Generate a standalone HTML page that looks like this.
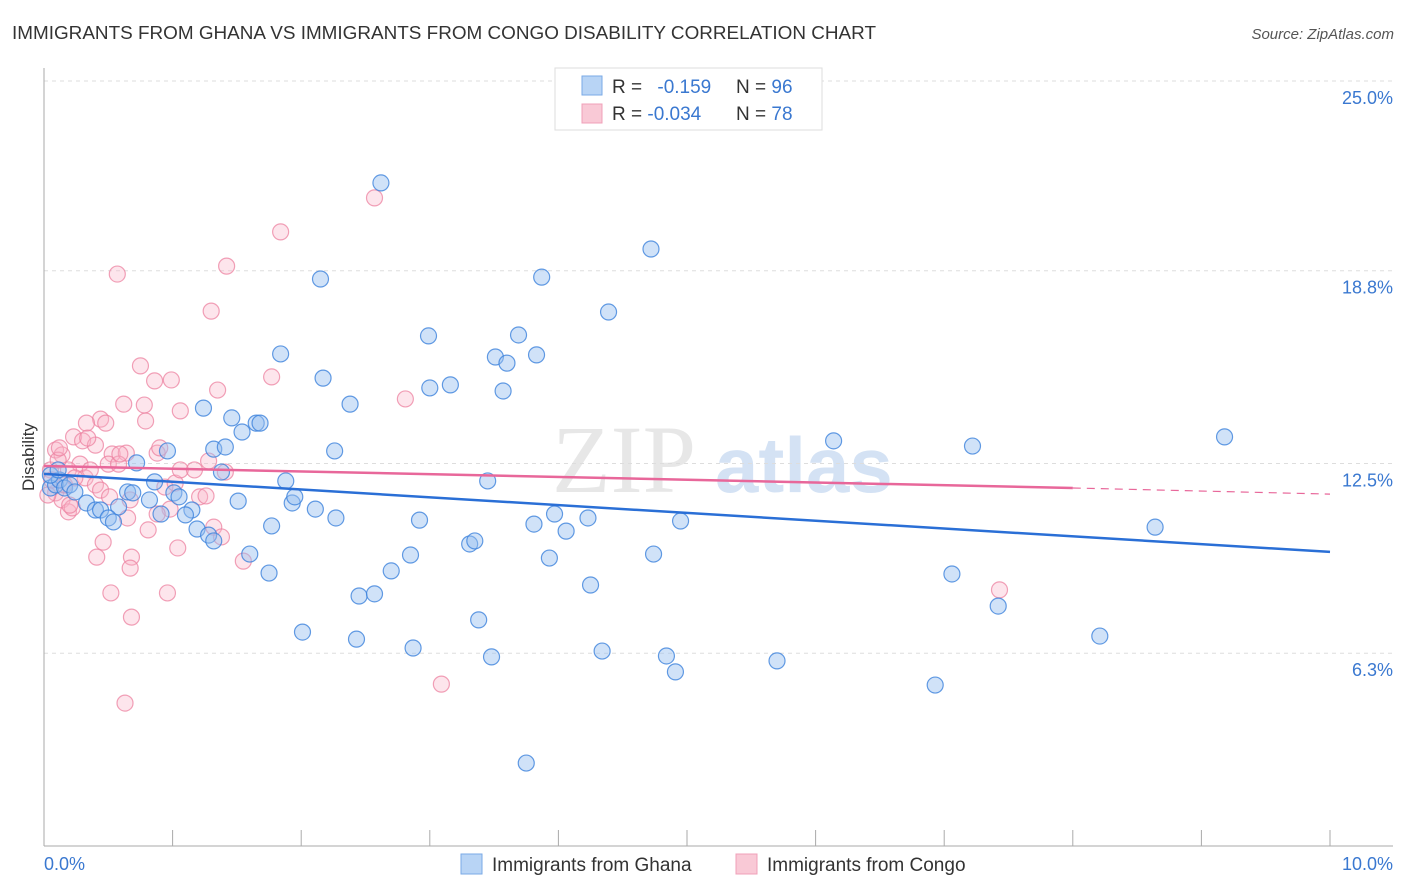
<!DOCTYPE html>
<html><head><meta charset="utf-8"><style>
body{margin:0;background:#fff;font-family:"Liberation Sans",sans-serif}
svg{display:block}
</style></head><body>
<svg id="chart" width="1406" height="892">
<text x="12" y="39" font-size="18" fill="#333" textLength="864" lengthAdjust="spacingAndGlyphs">IMMIGRANTS FROM GHANA VS IMMIGRANTS FROM CONGO DISABILITY CORRELATION CHART</text>
<text x="1394" y="39" font-size="15" fill="#555" font-style="italic" text-anchor="end">Source: ZipAtlas.com</text>
<text x="34" y="457" font-size="17" fill="#333" text-anchor="middle" transform="rotate(-90 34 457)">Disability</text>
<g>
<text x="552" y="492" font-size="96" fill="#d8d8d8" font-family="Liberation Serif,serif" opacity="0.6">ZIP</text>
<text x="715" y="492" font-size="78" fill="#b8d0ee" opacity="0.6" font-weight="bold">atlas</text>
</g>
<g id="grid"></g>
<g id="axes"></g>
<g id="pts"></g>
<g id="trends"></g>
<g>
<rect x="555" y="68" width="267" height="62" fill="#fff" stroke="#ddd"/>
<rect x="582" y="76" width="20" height="19" fill="#b8d4f5" stroke="#7aaae6"/>
<rect x="582" y="104" width="20" height="19" fill="#f9c9d6" stroke="#f0a0b8"/>
<text x="612" y="93" font-size="19" fill="#333">R = <tspan fill="#3a78d0" dx="10">-0.159</tspan><tspan x="736" fill="#333">N = </tspan><tspan fill="#3a78d0">96</tspan></text>
<text x="612" y="120" font-size="19" fill="#333">R = <tspan fill="#3a78d0">-0.034</tspan><tspan x="736" fill="#333">N = </tspan><tspan fill="#3a78d0">78</tspan></text>
</g>
<g>
<rect x="461" y="854" width="21" height="20" fill="#b8d4f5" stroke="#7aaae6"/>
<text x="492" y="871" font-size="19" fill="#333">Immigrants from Ghana</text>
<rect x="736" y="854" width="21" height="20" fill="#f9c9d6" stroke="#f0a0b8"/>
<text x="767" y="871" font-size="19" fill="#333">Immigrants from Congo</text>
</g>
</svg>
<script>
const yTicks=[25.0,18.8,12.5,6.3];
const yTickLabels=["25.0%","18.8%","12.5%","6.3%"];
const xTickLabels=["0.0%","10.0%"];
const ghanaX=[2.62,4.72,2.15,3.87,4.39,1.84,2.99,3.69,3.51,3.60,3.83,2.17,3.00,3.16,3.57,2.38,1.24,1.46,1.65,1.68,1.54,1.32,1.41,0.96,2.26,6.14,7.22,9.18,0.72,1.38,1.88,3.45,0.86,0.65,0.69,1.01,0.82,1.05,1.51,1.93,1.95,0.33,0.40,0.58,0.44,0.50,0.54,0.91,1.15,1.10,2.11,2.27,2.92,3.81,3.97,4.23,4.95,4.06,1.77,1.19,1.28,1.32,1.60,2.85,3.31,3.35,3.93,4.74,1.75,2.70,2.45,2.57,4.25,7.06,7.42,8.21,3.38,2.01,2.43,2.87,3.48,4.34,4.84,4.91,5.70,6.93,3.75,8.64,0.05,0.09,0.12,0.16,0.20,0.24,0.05,0.11];
const ghanaY=[21.67,19.51,18.53,18.59,17.45,16.08,16.67,16.70,15.98,15.78,16.05,15.29,14.97,15.07,14.87,14.44,14.31,13.99,13.82,13.82,13.53,12.97,13.04,12.91,12.91,13.24,13.07,13.37,12.52,12.22,11.93,11.93,11.90,11.57,11.54,11.54,11.31,11.41,11.27,11.21,11.41,11.21,10.98,11.08,10.98,10.72,10.59,10.85,10.98,10.82,11.01,10.72,10.65,10.52,10.85,10.72,10.62,10.29,10.46,10.36,10.16,9.97,9.54,9.51,9.87,9.97,9.41,9.54,8.92,8.99,8.17,8.24,8.53,8.89,7.84,6.86,7.39,6.99,6.76,6.47,6.18,6.37,6.21,5.69,6.05,5.26,2.71,10.42,11.70,11.80,11.96,11.70,11.80,11.57,12.12,12.29];
const congoX=[2.57,1.84,1.42,0.57,1.30,0.75,0.99,0.86,1.77,1.35,2.81,0.62,0.78,1.06,0.44,0.33,0.48,0.79,0.23,0.30,0.40,0.34,0.53,0.64,0.88,0.90,1.28,1.41,0.50,0.58,0.28,0.09,0.14,0.19,0.05,0.09,0.14,0.19,0.22,0.32,0.40,0.44,0.51,0.67,0.94,1.02,1.21,1.26,0.98,0.88,1.32,1.38,0.65,0.81,1.04,0.46,0.41,0.68,0.67,1.55,0.52,0.96,0.68,0.63,3.09,7.43,0.03,0.06,0.11,0.16,0.24,0.36,0.59,0.12,0.20,1.06,1.17];
const congoY=[21.18,20.07,18.95,18.69,17.48,15.69,15.23,15.20,15.33,14.90,14.61,14.44,14.41,14.22,13.95,13.82,13.82,13.89,13.37,13.24,13.10,13.33,12.81,12.84,12.84,13.01,12.58,12.22,12.48,12.48,12.48,12.94,12.78,12.29,12.29,11.54,11.31,10.92,11.05,12.03,11.80,11.63,11.41,11.31,11.73,11.86,11.41,11.44,11.01,10.85,10.42,10.10,10.72,10.33,9.74,9.93,9.44,9.44,9.08,9.31,8.27,8.27,7.48,4.67,5.29,8.37,11.47,11.96,12.61,11.80,12.03,12.29,12.81,13.01,11.14,12.29,12.29];
const ghanaTrend=[12.16,9.61];
const congoTrend=[12.42,11.70,11.50];
const congoTrendEndX=8.0;

const NS="http://www.w3.org/2000/svg";
const X0=44,X1=1330,Y0=846,PPU=30.6;
const sx=v=>X0+(v/10)*(X1-X0);
const sy=v=>Y0-v*PPU;
function mk(tag,attrs,parent){const e=document.createElementNS(NS,tag);for(const k in attrs)e.setAttribute(k,attrs[k]);parent.appendChild(e);return e;}
const grid=document.getElementById('grid'),axes=document.getElementById('axes'),pts=document.getElementById('pts'),tr=document.getElementById('trends');
yTicks.forEach((t,i)=>{
  const l=mk('line',{x1:X0,x2:1393,y1:sy(t),y2:sy(t),stroke:'#ddd','stroke-dasharray':'4 4'},grid);
  
  
  const tx=mk('text',{x:1393,y:sy(t)+23,'font-size':18,fill:'#3a78d0','text-anchor':'end'},grid);
  tx.textContent=yTickLabels[i];
  
  
});
let a=mk('line',{x1:X0,x2:X0,y1:68,y2:Y0,stroke:'#aaa'},axes);


a=mk('line',{x1:X0,x2:1393,y1:Y0,y2:Y0,stroke:'#aaa'},axes);


for(let i=0;i<=10;i++){
  const t=mk('line',{x1:sx(i),x2:sx(i),y1:Y0,y2:Y0-16,stroke:'#aaa'},axes);
  
  
}
[[0,'start',44],[10,'end',1393]].forEach((d,i)=>{
  const t=mk('text',{x:d[2],y:870,'font-size':18,fill:'#3a78d0','text-anchor':d[1]},axes);
  t.textContent=xTickLabels[i];
  
  
});
function drawPts(xs,ys,fill,stroke,name){
  xs.forEach((x,i)=>{
    const c=mk('circle',{cx:sx(x),cy:sy(ys[i]),r:8,fill:fill,stroke:stroke,'stroke-width':1.2},pts);
    
    
  });
}
drawPts(congoX,congoY,'rgba(248,180,200,0.35)','rgba(236,130,160,0.75)','congo-point');
drawPts(ghanaX,ghanaY,'rgba(150,190,240,0.45)','rgba(60,130,220,0.8)','ghana-point');
let l=mk('line',{x1:sx(0),x2:sx(10),y1:sy(ghanaTrend[0]),y2:sy(ghanaTrend[1]),stroke:'#2a6fd6','stroke-width':2.5},tr);


l=mk('line',{x1:sx(0),x2:sx(congoTrendEndX),y1:sy(congoTrend[0]),y2:sy(congoTrend[1]),stroke:'#e8679a','stroke-width':2.5},tr);


l=mk('line',{x1:sx(congoTrendEndX),x2:sx(10),y1:sy(congoTrend[1]),y2:sy(congoTrend[2]),stroke:'#e8679a','stroke-width':1.2,'stroke-dasharray':'8 6'},tr);


</script>
</body></html>
